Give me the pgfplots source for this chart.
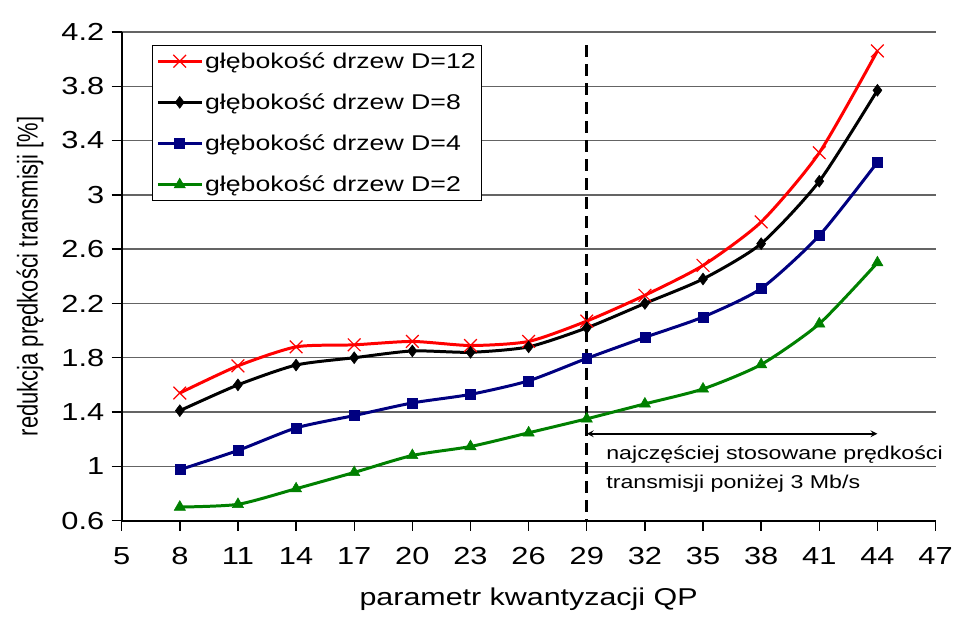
\documentclass[border=0pt]{standalone}
\usepackage{fontspec}
\setmainfont{Liberation Sans}[FakeStretch=1.25]
\newfontfamily\ylfont{Liberation Sans}
\usepackage{graphicx}
\usepackage{pgfplots}
\pgfplotsset{compat=1.18}
\usetikzlibrary{calc}
\definecolor{cred}{RGB}{255,0,0}
\definecolor{cblue}{RGB}{0,0,128}
\definecolor{cgreen}{RGB}{0,128,0}
\definecolor{cgrid}{RGB}{100,100,100}
\begin{document}
\begin{tikzpicture}
\begin{axis}[
    scale only axis,
    width=816pt, height=490pt,
    xmin=5, xmax=47, ymin=0.6, ymax=4.2,
    xtick={5,8,...,47},
    ytick={0.6,1,1.4,1.8,2.2,2.6,3,3.4,3.8,4.2},
    /pgf/number format/assume math mode=true,
    ticklabel style={font=\fontsize{24.7}{28}\selectfont},
    xticklabel style={yshift=-13pt},
    yticklabel style={xshift=-4pt},
    xlabel={parametr kwantyzacji QP},
    xlabel style={font=\fontsize{24.4}{28}\selectfont, yshift=-17pt},
    ylabel={\scalebox{1}[1.3]{\ylfont redukcja prędkości transmisji [\%]}},
    ylabel style={font=\fontsize{22}{24}\selectfont, yshift=11pt},
    axis x line*=bottom, axis y line*=left,
    axis line style={line width=2pt, -},
    tick style={black, line width=1.4pt},
    major tick length=10pt,
    tick align=outside,
    ymajorgrids,
    grid style={cgrid, line width=1.4pt},
    clip=false,
    legend cell align=left,
    legend image code/.code={
        \draw[#1] (0pt,0pt) -- (44pt,0pt);
        \draw[#1, only marks] plot coordinates {(22pt,0pt)};},
    legend style={at={(rel axis cs:0.037,0.973)}, anchor=north west,
        draw=black, line width=1pt, fill=white, font=\fontsize{21.4}{24}\selectfont,
        inner xsep=4pt, inner ysep=5pt, row sep=20pt},
    every axis plot/.append style={smooth, tension=0.4, line width=3pt},
]
\addplot[cred, mark=x, mark size=9pt, mark options={line width=1.2pt}] coordinates {
    (8,1.54) (11,1.74) (14,1.88) (17,1.895) (20,1.92) (23,1.89) (26,1.92)
    (29,2.07) (32,2.26) (35,2.48) (38,2.80) (41,3.31) (44,4.06)};
\addlegendentry{głębokość drzew D=12}
\addplot[black, mark=diamond*, mark size=6pt, mark options={line width=0.5pt}] coordinates {
    (8,1.41) (11,1.60) (14,1.746) (17,1.80) (20,1.85) (23,1.84) (26,1.88)
    (29,2.02) (32,2.20) (35,2.38) (38,2.64) (41,3.10) (44,3.77)};
\addlegendentry{głębokość drzew D=8}
\addplot[cblue, mark=square*, mark size=5pt, mark options={line width=0.5pt}] coordinates {
    (8,0.975) (11,1.117) (14,1.283) (17,1.374) (20,1.467) (23,1.53) (26,1.63)
    (29,1.795) (32,1.95) (35,2.10) (38,2.31) (41,2.70) (44,3.24)};
\addlegendentry{głębokość drzew D=4}
\addplot[cgreen, mark=triangle*, mark size=6.5pt, mark options={line width=0.5pt}] coordinates {
    (8,0.70) (11,0.72) (14,0.835) (17,0.955) (20,1.08) (23,1.146) (26,1.247)
    (29,1.35) (32,1.46) (35,1.57) (38,1.75) (41,2.05) (44,2.50)};
\addlegendentry{głębokość drzew D=2}
\addplot[black, dash pattern=on 12pt off 7pt, line width=3pt, no markers, sharp plot, forget plot]
    coordinates {(29,4.1) (29,0.6)};
\draw[<->, >=stealth, line width=2pt] (axis cs:29,1.24) -- (axis cs:44,1.24);
\node[anchor=west, font=\fontsize{18.6}{22}\selectfont, inner sep=0pt] at (axis cs:30,1.09) {najczęściej stosowane prędkości};
\node[anchor=west, font=\fontsize{18.6}{22}\selectfont, inner sep=0pt] at (axis cs:30,0.87) {transmisji poniżej 3 Mb/s};
\end{axis}
\path ($(current axis.south west)+(-122pt,-97pt)$) rectangle ($(current axis.north east)+(18pt,32pt)$);
\end{tikzpicture}
\end{document}
